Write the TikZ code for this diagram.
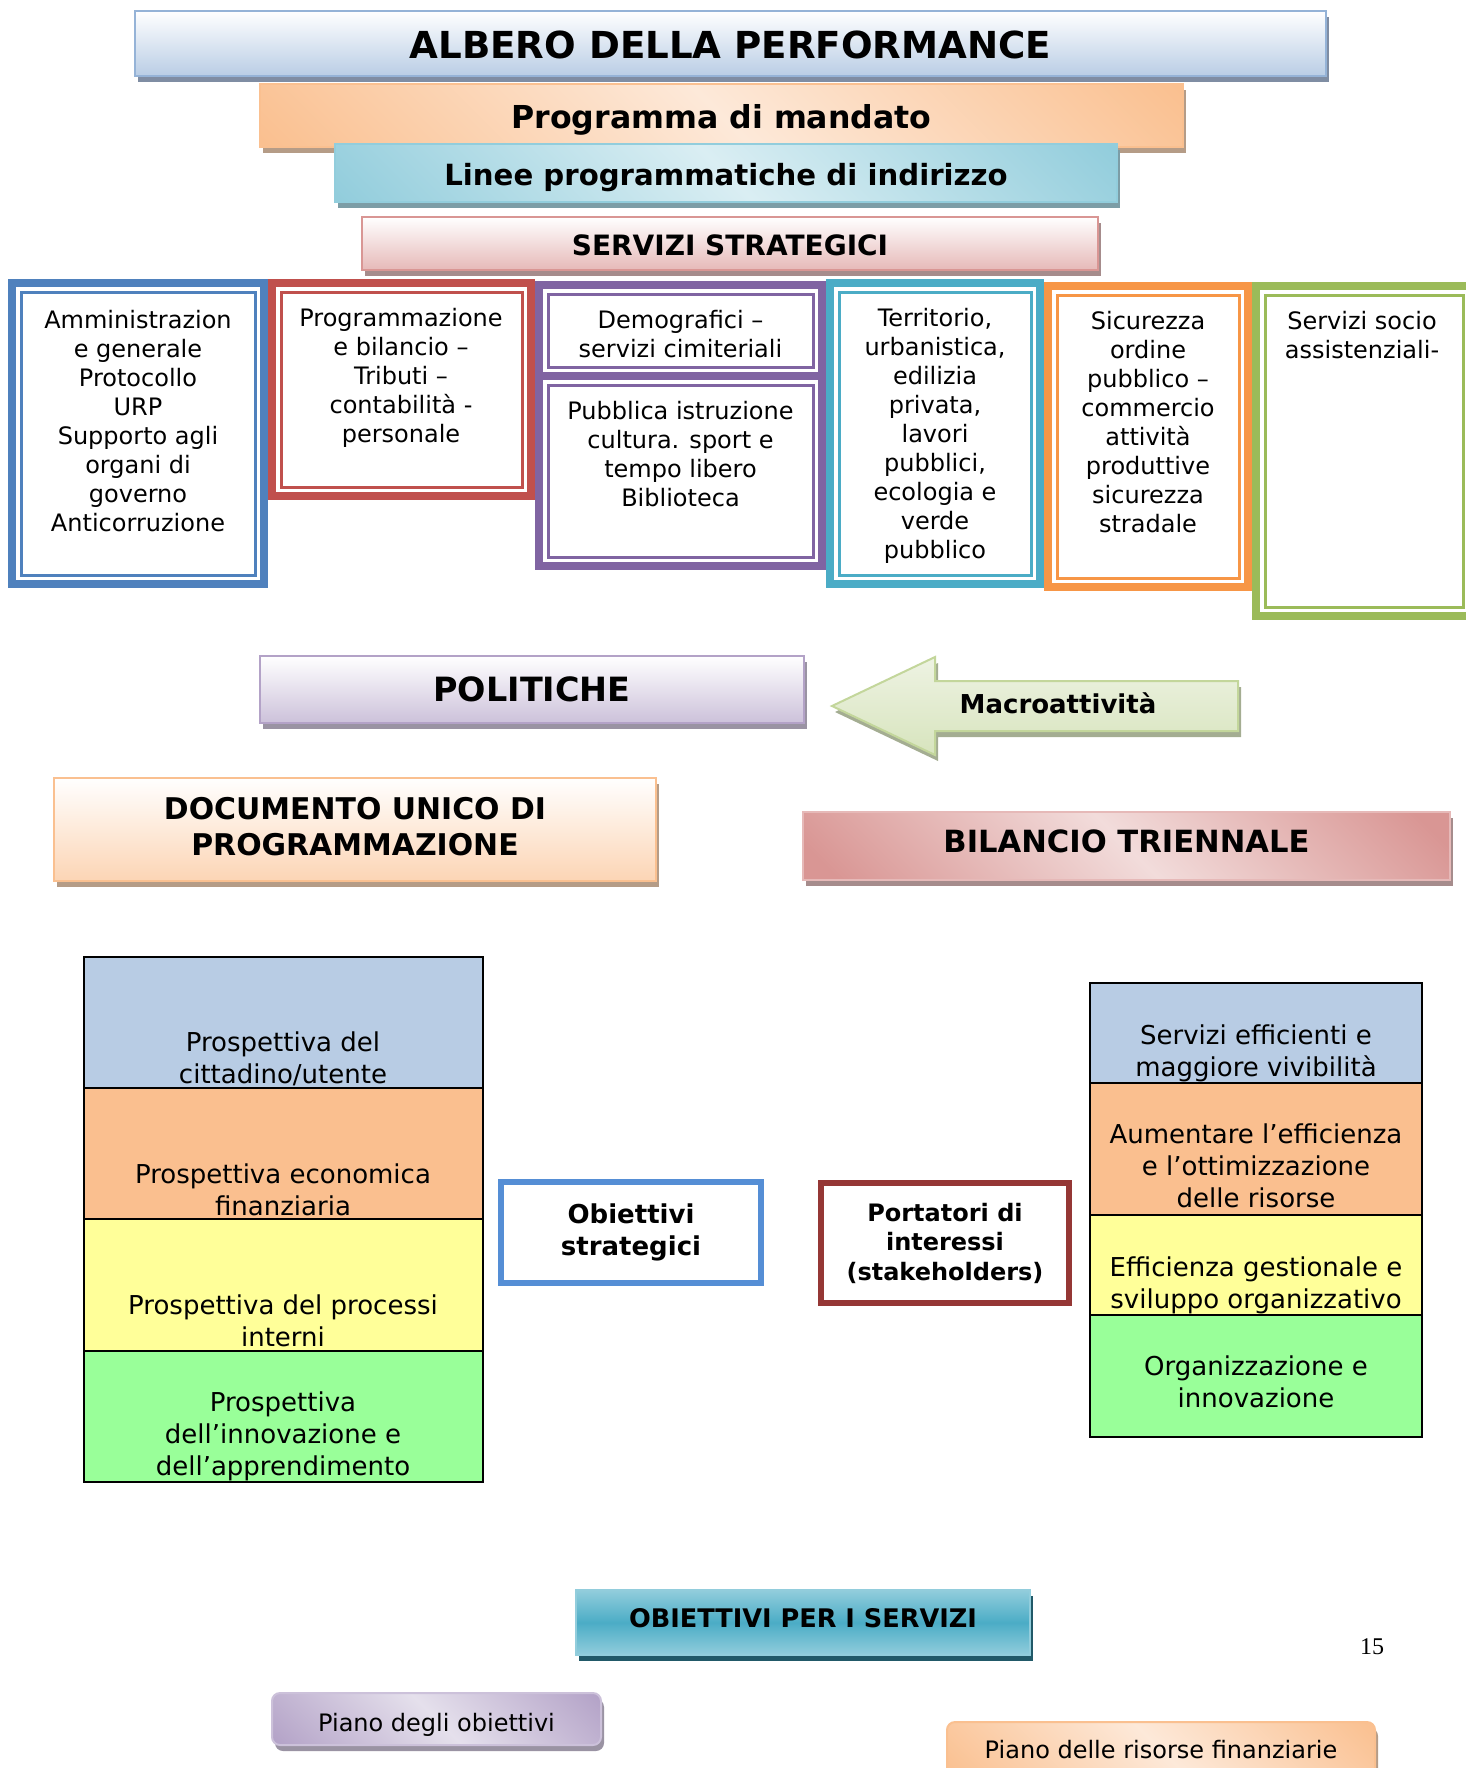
\documentclass[tikz,border=0pt]{standalone}
\usepackage{fontspec}
\setmainfont{DejaVu Sans}
\newfontfamily\numfont{Liberation Serif}
\usetikzlibrary{shadows}
\definecolor{bl40}{HTML}{95B3D7}
\definecolor{bl60}{HTML}{B9CDE5}
\definecolor{or40}{HTML}{FAC090}
\definecolor{or60}{HTML}{FCD5B5}
\definecolor{or80}{HTML}{FDE9D9}
\definecolor{te40}{HTML}{92CDDC}
\definecolor{te80}{HTML}{DAEEF3}
\definecolor{rd40}{HTML}{D99694}
\definecolor{rd60}{HTML}{E6B9B8}
\definecolor{rd80}{HTML}{F2DCDB}
\definecolor{pu40}{HTML}{B3A2C7}
\definecolor{pu60}{HTML}{CCC1DA}
\definecolor{pu80}{HTML}{E5E0EC}
\definecolor{gr40}{HTML}{C3D69B}
\definecolor{gr60}{HTML}{D7E4BD}
\definecolor{gr80}{HTML}{EEF3E3}
\definecolor{acBlue}{HTML}{4F81BD}
\definecolor{acRed}{HTML}{C0504D}
\definecolor{acGreen}{HTML}{9BBB59}
\definecolor{acPurple}{HTML}{8064A2}
\definecolor{acTeal}{HTML}{4BACC6}
\definecolor{acOrange}{HTML}{F79646}
\definecolor{stBlue}{HTML}{B8CCE4}
\definecolor{stPeach}{HTML}{FABF8F}
\definecolor{stYellow}{HTML}{FFFF99}
\definecolor{stGreen}{HTML}{99FF99}
\definecolor{obBlue}{HTML}{558ED5}
\definecolor{ptRed}{HTML}{953735}
\definecolor{tealDark}{HTML}{215968}
\definecolor{shBl}{HTML}{7F8DA3}
\definecolor{shOr}{HTML}{B59C87}
\definecolor{shTe}{HTML}{7C9DA6}
\definecolor{shRd}{HTML}{A68C8C}
\definecolor{shPu}{HTML}{9A93A3}
\definecolor{shGr}{HTML}{A4AD92}
\pgfdeclarehorizontalshading{dgOr}{100bp}{color(0bp)=(or40); color(15bp)=(or40); color(50bp)=(or80); color(85bp)=(or40); color(100bp)=(or40)}
\pgfdeclarehorizontalshading{dgTe}{100bp}{color(0bp)=(te40); color(15bp)=(te40); color(50bp)=(te80); color(85bp)=(te40); color(100bp)=(te40)}
\pgfdeclarehorizontalshading{dgRd}{100bp}{color(0bp)=(rd40); color(18bp)=(rd40); color(50bp)=(rd80); color(82bp)=(rd40); color(100bp)=(rd40)}
\pgfdeclarehorizontalshading{dgPu}{100bp}{color(0bp)=(pu40); color(15bp)=(pu40); color(50bp)=(pu80); color(85bp)=(pu40); color(100bp)=(pu40)}
\begin{document}
\begin{tikzpicture}[x=0.5pt,y=-0.5pt,
  every node/.style={inner sep=0pt,outer sep=0pt},
  banner/.style={draw=#1, line width=1pt},
  boxshadow/.style={general shadow={fill=#1, shadow xshift=1.5pt, shadow yshift=-3pt}},
  svcbox/.style={draw=#1, line width=4pt, fill=white},
  svcline/.style={draw=#1, line width=1.5pt},
  svctext/.style={align=center, font=\fontsize{12}{14.5}\selectfont},
  strow/.style={draw=black, line width=1pt, fill=#1, minimum width=199.5pt},
  rtrow/.style={draw=black, line width=1pt, fill=#1, minimum width=166pt},
  sttext/.style={align=center, font=\fontsize{13}{16}\selectfont},
  btext/.style={align=center, font=\fontsize{#1}{18}\selectfont\bfseries}
]
\useasboundingbox (0,0) rectangle (1466,1768);
\clip (0,0) rectangle (1466,1768);

% --- top banners ---
\node[banner=bl40, top color=white, bottom color=bl60, boxshadow=shBl,
  minimum width=595.5pt, minimum height=32.5pt] (title) at (730.5,43.5) {};
\node[btext=18.6] (titleT) at (730.5,45) {ALBERO DELLA PERFORMANCE};
\node[banner=or40, shade, shading=dgOr, shading angle=45, boxshadow=shOr,
  minimum width=461.5pt, minimum height=31.5pt] (prog) at (721.5,115.5) {};
\node[btext=15.8] (progT) at (721.5,120) {Programma di mandato};
\node[banner=te40, shade, shading=dgTe, shading angle=45, boxshadow=shTe,
  minimum width=391pt, minimum height=29pt] (linee) at (726,173) {};
\node[btext=14.6] (lineeT) at (726,177.5) {Linee programmatiche di indirizzo};
\node[banner=rd40, top color=white, bottom color=rd60, boxshadow=shRd,
  minimum width=368pt, minimum height=26.5pt] (servstr) at (730,243.5) {};
\node[btext=14] (servstrT) at (730,245.5) {SERVIZI STRATEGICI};

% --- service boxes ---
\node[svcbox=acBlue, minimum width=126pt, minimum height=150.5pt] (s1) at (138,433.5) {};
\draw[svcline=acBlue] ([shift={(9,9)}]s1.north west) rectangle ([shift={(-9,-9)}]s1.south east);
\node[svctext] (t1) at (138,421) {Amministrazion\\e generale\\Protocollo\\URP\\Supporto agli\\organi di\\governo\\Anticorruzione};

\node[svcbox=acRed, minimum width=129.5pt, minimum height=106.5pt] (s2) at (401.5,389.5) {};
\draw[svcline=acRed] ([shift={(9,9)}]s2.north west) rectangle ([shift={(-9,-9)}]s2.south east);
\node[svctext] (t2) at (401,378) {Programmazione\\e bilancio –\\Tributi –\\contabilità -\\personale};

\node[svcbox=acPurple, minimum width=141.5pt, minimum height=45.5pt] (s3a) at (680.5,330.5) {};
\draw[svcline=acPurple] ([shift={(9,9)}]s3a.north west) rectangle ([shift={(-9,-9)}]s3a.south east);
\node[svcbox=acPurple, minimum width=141.5pt, minimum height=95pt] (s3b) at (680.5,471) {};
\draw[svcline=acPurple] ([shift={(9,9)}]s3b.north west) rectangle ([shift={(-9,-9)}]s3b.south east);
\node[svctext] (t3a) at (680.5,334) {Demografici –\\servizi cimiteriali};
\node[svctext] (t3b) at (680.5,454) {Pubblica istruzione\\cultura. sport e\\tempo libero\\Biblioteca};

\node[svcbox=acTeal, minimum width=105pt, minimum height=150.5pt] (s4) at (935,433.5) {};
\draw[svcline=acTeal] ([shift={(9,9)}]s4.north west) rectangle ([shift={(-9,-9)}]s4.south east);
\node[svctext] (t4) at (935,436) {Territorio,\\urbanistica,\\edilizia\\privata,\\lavori\\pubblici,\\ecologia e\\verde\\pubblico};

\node[svcbox=acOrange, minimum width=100pt, minimum height=150.5pt] (s5) at (1148,436.5) {};
\draw[svcline=acOrange] ([shift={(9,9)}]s5.north west) rectangle ([shift={(-9,-9)}]s5.south east);
\node[svctext] (t5) at (1148,422.5) {Sicurezza\\ordine\\pubblico –\\commercio\\attività\\produttive\\sicurezza\\stradale};

\node[svcbox=acGreen, minimum width=108pt, minimum height=165pt] (s6) at (1364,451) {};
\draw[svcline=acGreen] ([shift={(9,9)}]s6.north west) rectangle ([shift={(-9,-9)}]s6.south east);
\node[svctext] (t6) at (1362,335) {Servizi socio\\assistenziali-};

% --- politiche / macroattivita ---
\node[banner=pu40, top color=white, bottom color=pu60, boxshadow=shPu,
  minimum width=272pt, minimum height=33.5pt] (pol) at (532,689.5) {};
\node[btext=16.7] (polT) at (532,689.5) {POLITICHE};
\draw[draw=gr40, line width=1pt, top color=gr80, bottom color=gr60, boxshadow=shGr]
  (832,706) -- (935,657) -- (935,681) -- (1238,681) -- (1238,731) -- (935,731) -- (935,755) -- cycle;
\node[btext=13] (macro) at (1058,703) {Macroattività};

% --- DUP / bilancio ---
\node[banner=or40, top color=white, bottom color=or60, boxshadow=shOr,
  minimum width=301pt, minimum height=51.5pt] (dup) at (355,829) {};
\node[btext=14.95] (dupT) at (355,826.5) {DOCUMENTO UNICO DI\\PROGRAMMAZIONE};
\node[banner=rd60, shade, shading=dgRd, shading angle=45, boxshadow=shRd,
  minimum width=323.5pt, minimum height=34pt] (bil) at (1126.5,846) {};
\node[btext=15.3] (bilT) at (1126.5,841.5) {BILANCIO TRIENNALE};

% --- left stack ---
\node[strow=stBlue, minimum height=65.5pt] (l1) at (283.5,1022.5) {};
\node[strow=stPeach, minimum height=65.5pt] (l2) at (283.5,1153.5) {};
\node[strow=stYellow, minimum height=66pt] (l3) at (283.5,1285) {};
\node[strow=stGreen, minimum height=65.5pt] (l4) at (283.5,1416.5) {};
\node[sttext] (lt1) at (283,1059) {Prospettiva del\\cittadino/utente};
\node[sttext] (lt2) at (283,1189.5) {Prospettiva economica\\finanziaria};
\node[sttext] (lt3) at (283,1320.5) {Prospettiva del processi\\interni};
\node[sttext] (lt4) at (283,1436) {Prospettiva\\dell’innovazione e\\dell’apprendimento};

% --- right stack ---
\node[rtrow=stBlue, minimum height=50pt] (r1) at (1256,1033) {};
\node[rtrow=stPeach, minimum height=66pt] (r2) at (1256,1149) {};
\node[rtrow=stYellow, minimum height=50pt] (r3) at (1256,1265) {};
\node[rtrow=stGreen, minimum height=61pt] (r4) at (1256,1376) {};
\node[sttext] (rt1) at (1256,1053) {Servizi efficienti e\\maggiore vivibilità};
\node[sttext] (rt2) at (1256,1166) {Aumentare l’efficienza\\e l’ottimizzazione\\delle risorse};
\node[sttext] (rt3) at (1256,1285) {Efficienza gestionale e\\sviluppo organizzativo};
\node[sttext] (rt4) at (1256,1382) {Organizzazione e\\innovazione};

% --- middle boxes ---
\node[draw=obBlue, line width=3pt, fill=white, minimum width=130pt, minimum height=50.5pt,
  align=center, font=\fontsize{13}{16}\selectfont\bfseries] (obs) at (631,1232) {Obiettivi\\strategici};
\node[draw=ptRed, line width=3pt, fill=white, minimum width=124pt, minimum height=60pt,
  align=center, font=\fontsize{12}{14.75}\selectfont\bfseries] (port) at (945,1243) {Portatori di\\interessi\\(stakeholders)};

% --- bottom ---
\node[banner=te40, top color=te40, bottom color=te40, middle color=acTeal,
  general shadow={fill=tealDark, shadow xshift=1.5pt, shadow yshift=-3pt},
  minimum width=227pt, minimum height=32.5pt] (ops) at (803,1622.5) {};
\node[btext=12.8] (opsT) at (803,1618) {OBIETTIVI PER I SERVIZI};
\node[font=\numfont\fontsize{12}{14}\selectfont] (pg) at (1372,1647) {15};
\node[banner=pu60, rounded corners=4pt, shade, shading=dgPu, shading angle=45, boxshadow=shPu,
  minimum width=164.5pt, minimum height=26pt] (pob) at (436.5,1719) {};
\node[font=\fontsize{12}{14}\selectfont] (pobT) at (436.5,1725) {Piano degli obiettivi};
\node[banner=or40, rounded corners=4pt, shade, shading=dgOr, shading angle=45, boxshadow=shOr,
  minimum width=214pt, minimum height=28pt] (pris) at (1161,1750) {};
\node[font=\fontsize{12}{14}\selectfont] (prisT) at (1161,1750) {Piano delle risorse finanziarie};
\end{tikzpicture}
\end{document}
